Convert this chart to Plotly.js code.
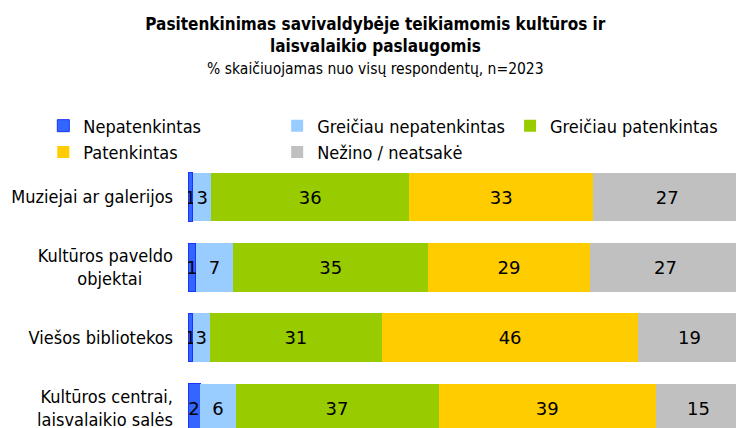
<!DOCTYPE html>
<html>
<head>
<meta charset="utf-8">
<script src="https://cdn.plot.ly/plotly-3.0.1.min.js"></script>
<style>html,body{margin:0;padding:0;background:#fff;}#chart{width:736px;height:428px;}</style>
</head>
<body>
<div id="chart"></div>
<script>
var categories = ["Muziejai ar galerijos", "Kultūros paveldo<br>objektai\u00A0\u00A0\u00A0\u00A0\u00A0\u00A0", "Viešos bibliotekos", "Kultūros centrai,<br>laisvalaikio salės"];
var seriesNames = ["Nepatenkintas", "Greičiau nepatenkintas", "Greičiau patenkintas", "Patenkintas", "Nežino / neatsakė"];
var nepatenkintas = [0.9, 1.4, 0.9, 2.2];
var greiciauNepatenkintas = [3.3, 6.8, 3.0, 6.4];
var greiciauPatenkintas = [35.8, 35.2, 31.2, 36.7];
var patenkintas = [33.3, 29.3, 46.3, 39.3];
var nezino = [26.7, 27.3, 18.6, 15.4];
var labelsNepatenkintas = [1, 1, 1, 2];
var labelsGreiciauNepatenkintas = [3, 7, 3, 6];
var labelsGreiciauPatenkintas = [36, 35, 31, 37];
var labelsPatenkintas = [33, 29, 46, 39];
var labelsNezino = [27, 27, 19, 15];

var values = [nepatenkintas, greiciauNepatenkintas, greiciauPatenkintas, patenkintas, nezino];
var labels = [labelsNepatenkintas, labelsGreiciauNepatenkintas, labelsGreiciauPatenkintas, labelsPatenkintas, labelsNezino];
var colors = ["#3366FF", "#99CCFF", "#99CC00", "#FFCC00", "#C0C0C0"];
var lineColors = ["#1a33ff", "rgba(0,0,0,0)", "rgba(0,0,0,0)", "rgba(0,0,0,0)", "rgba(0,0,0,0)"];
var lineWidths = [1, 0, 0, 0, 0];
// legend column for each series (legend grid: 3 columns, 2 rows)
var legendColumn = ["legend", "legend2", "legend3", "legend", "legend2"];

var FONT = "DejaVu Sans Condensed, DejaVu Sans, sans-serif";
var LABEL_FONT = "DejaVu Sans, sans-serif";

var traces = seriesNames.map(function(name, i) {
  return {
    type: "bar",
    orientation: "h",
    name: name,
    legend: legendColumn[i],
    y: categories,
    x: values[i],
    text: labels[i].map(String),
    textposition: "inside",
    insidetextanchor: "middle",
    textangle: 0,
    constraintext: "none",
    textfont: {family: LABEL_FONT, size: 18, color: "#000"},
    marker: {color: colors[i], line: {color: lineColors[i], width: lineWidths[i]}},
    hoverinfo: "none"
  };
});

function legendAt(xPos) {
  return {
    orientation: "v",
    traceorder: "normal",
    xref: "paper", yref: "paper",
    x: xPos, xanchor: "left",
    y: 1.205, yanchor: "top",
    font: {family: FONT, size: 18, color: "#000"},
    bgcolor: "rgba(0,0,0,0)",
    tracegroupgap: 0,
    itemclick: false
  };
}

var layout = {
  width: 736,
  height: 428,
  paper_bgcolor: "#fff",
  plot_bgcolor: "#fff",
  barmode: "stack",
  bargap: 0.31,
  margin: {l: 188, r: 0, t: 162, b: 0, pad: 0},
  font: {family: FONT, color: "#000"},
  uniformtext: {mode: "show", minsize: 18},
  title: {
    text: "<b>Pasitenkinimas savivaldybėje teikiamomis kultūros ir<br>laisvalaikio paslaugomis</b><br><span style='font-size:15.5px'>% skaičiuojamas nuo visų respondentų, n=2023</span>",
    font: {family: FONT, size: 17, color: "#000"},
    x: 0.51, xref: "container", xanchor: "center",
    y: 0.93, yref: "container", yanchor: "top"
  },
  showlegend: true,
  legend: legendAt(-0.264),
  legend2: legendAt(0.1627),
  legend3: legendAt(0.5877),
  xaxis: {
    range: [0, 99.1],
    visible: false,
    showgrid: false,
    zeroline: false,
    fixedrange: true
  },
  yaxis: {
    type: "category",
    range: [3.284, -0.5],
    showgrid: false,
    zeroline: false,
    showline: false,
    ticks: "",
    ticklabelstandoff: 14,
    tickfont: {family: FONT, size: 18, color: "#000"},
    fixedrange: true
  }
};

Plotly.newPlot("chart", traces, layout, {displayModeBar: false, staticPlot: true});
</script>
</body>
</html>
